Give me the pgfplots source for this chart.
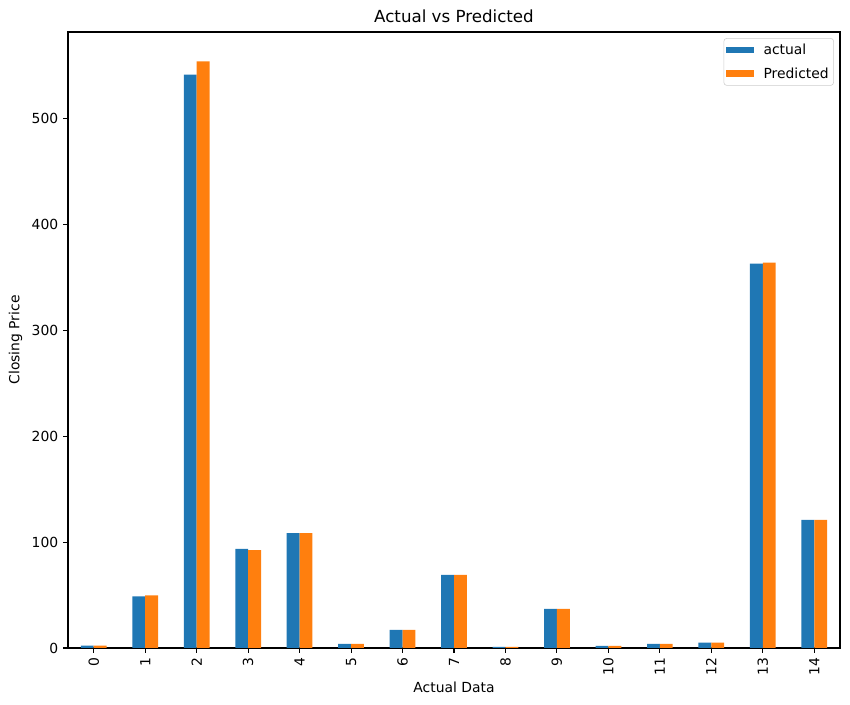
\documentclass[border=0pt]{standalone}
\usepackage{pgfplots}
\pgfplotsset{compat=1.18}
\usepackage{fontspec}
\setmainfont{DejaVu Sans}
\definecolor{mblue}{HTML}{1F77B4}
\definecolor{morange}{HTML}{FF7F0E}
\begin{document}
\begin{tikzpicture}
\path[use as bounding box] (-48.96pt,-41.04pt) rectangle (563.04pt,466.56pt);
\begin{axis}[
  at={(0pt,0pt)}, anchor=south west,
  scale only axis, width=555.84pt, height=443.52pt,
  font=\fontsize{10}{12}\selectfont,
  /pgf/number format/assume math mode=true,
  xmin=-0.5, xmax=14.5, ymin=0, ymax=581.7,
  xtick={0,...,14}, ytick={0,100,200,300,400,500},
  xticklabel style={rotate=90, anchor=east},
  tick align=outside, tick pos=left, major tick length=3.5pt,
  every tick/.style={black, line width=0.8pt},
  axis line style={line width=0.8pt},
  title={Actual vs Predicted}, title style={font=\fontsize{12}{14}\selectfont, yshift=-3pt},
  xlabel={Actual Data}, ylabel={Closing Price},
  xlabel style={yshift=2pt},
  bar width=0.25,
  legend style={at={(0.992,0.99)}, anchor=north east, draw=black!20, rounded corners=2pt, font=\fontsize{10}{12}\selectfont, row sep=4pt, inner xsep=1.5pt, inner ysep=1.8pt},
  legend cell align=left,
  legend image code/.code={\fill[#1, sharp corners] (0pt,-2.5pt) rectangle (20pt,2.5pt); \path (25pt,0pt);},
]
\addplot[ybar, bar shift=-0.125, fill=mblue, draw=none] coordinates {
(0,2.3) (1,48.7) (2,541.5) (3,93.5) (4,108.5) (5,4) (6,17) (7,69) (8,1) (9,37) (10,2) (11,4) (12,5) (13,363) (14,121)};
\addlegendentry{actual}
\addplot[ybar, bar shift=0.125, fill=morange, draw=none] coordinates {
(0,2.2) (1,49.6) (2,554) (3,92.5) (4,108.5) (5,4) (6,17) (7,69) (8,1) (9,37) (10,2) (11,4) (12,5) (13,364) (14,121)};
\addlegendentry{Predicted}
\end{axis}
\end{tikzpicture}
\end{document}
